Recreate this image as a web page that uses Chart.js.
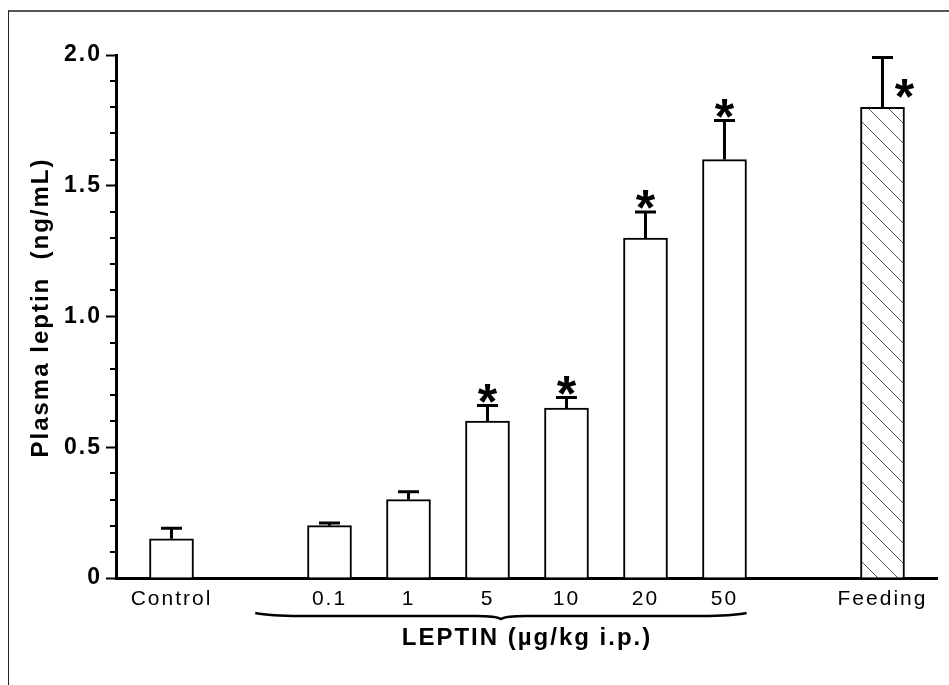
<!DOCTYPE html>
<html>
<head>
<meta charset="utf-8">
<script src="https://cdn.jsdelivr.net/npm/chart.js@4"></script>
<style>
  body { margin: 0; background: #fff; }
  #wrap { position: relative; width: 949px; height: 685px; overflow: hidden; }
  #frame { position: absolute; left: 8px; top: 10px; right: -10px; bottom: -10px;
           border-left: 1px solid #222; border-top: 2px solid #555; }
  #chart { position: absolute; left: 0; top: 0; }
</style>
</head>
<body>
<div id="wrap">
  <div id="frame"></div>
  <canvas id="chart" width="949" height="685"></canvas>
</div>
<script>
const categories = ['Control', '0.1', '1', '5', '10', '20', '50', 'Feeding'];
const slots = [0, 2, 3, 4, 5, 6, 7, 9];
const plasmaLeptin = [0.15, 0.20, 0.30, 0.60, 0.65, 1.30, 1.60, 1.80];
const sem = [0.04, 0.01, 0.03, 0.06, 0.04, 0.10, 0.15, 0.19];
const starPos = ['', '', '', 'above', 'above', 'above', 'above', 'right'];
const yTicks = [0, 0.5, 1, 1.5, 2];
const yTickLabels = ['0', '0.5', '1.0', '1.5', '2.0'];

Chart.defaults.font.family = '"Liberation Sans", Arial, sans-serif';
Chart.defaults.color = '#000';

// diagonal hatch for the feeding bar
const makeHatch = () => {
    const n = 20;
    const c = document.createElement('canvas');
    c.width = n; c.height = n;
    const g = c.getContext('2d');
    g.fillStyle = '#fff';
    g.fillRect(0, 0, n, n);
    g.strokeStyle = '#555';
    g.lineWidth = 1;
    g.beginPath();
    g.moveTo(-2, -2); g.lineTo(n + 2, n + 2);
    g.moveTo(-n - 2, -2); g.lineTo(2, n + 2);
    g.moveTo(n - 2, -2); g.lineTo(2 * n + 2, n + 2);
    g.stroke();
    return g.createPattern(c, 'repeat');
};
const hatch = makeHatch();

const extras = {
    id: 'extras',
    beforeDraw(chart) {
        chart.ctx.letterSpacing = '2px';
    },
    afterDraw(chart) {
        const ctx = chart.ctx;
        const x = chart.scales.x, y = chart.scales.y;
        const area = chart.chartArea;
        ctx.save();
        ctx.strokeStyle = '#000';
        ctx.fillStyle = '#000';

        // minor ticks on y
        ctx.lineWidth = 2;
        for (let v = 0.1; v < y.max; v += 0.1) {
            if (Math.abs(v / 0.5 - Math.round(v / 0.5)) < 0.01) continue;
            const py = Math.round(y.getPixelForValue(v));
            ctx.beginPath();
            ctx.moveTo(area.left - 6, py);
            ctx.lineTo(area.left, py);
            ctx.stroke();
        }

        // error bars + stars
        ctx.letterSpacing = '0px';
        ctx.font = 'bold 50px "Liberation Sans", Arial, sans-serif';
        ctx.textAlign = 'center';
        ctx.textBaseline = 'alphabetic';
        const m = ctx.measureText('*');
        const starOff = (m.actualBoundingBoxAscent - m.actualBoundingBoxDescent) / 2;
        slots.forEach((s, i) => {
            const px = x.getPixelForValue(s);
            const top = y.getPixelForValue(plasmaLeptin[i]);
            const cap = y.getPixelForValue(plasmaLeptin[i] + sem[i]);
            ctx.lineWidth = 3;
            ctx.beginPath();
            ctx.moveTo(px, top);
            ctx.lineTo(px, cap);
            ctx.moveTo(px - 10.5, cap);
            ctx.lineTo(px + 10.5, cap);
            ctx.stroke();
            if (starPos[i] === 'above') {
                ctx.fillText('*', px, cap - 12 + starOff);
            } else if (starPos[i] === 'right') {
                ctx.fillText('*', px + 22, (cap + top) / 2 + 6 + starOff);
            }
        });

        // brace under the leptin doses
        const L = x.getPixelForValue(1.06), R = x.getPixelForValue(7.28);
        const M = (L + R) / 2;
        const b = area.bottom;
        ctx.lineWidth = 2.5;
        ctx.beginPath();
        ctx.moveTo(L, b + 35);
        ctx.quadraticCurveTo(L + 15, b + 38, L + 45, b + 38);
        ctx.lineTo(M - 25, b + 38);
        ctx.quadraticCurveTo(M - 5, b + 38, M, b + 41);
        ctx.quadraticCurveTo(M + 5, b + 38, M + 25, b + 38);
        ctx.lineTo(R - 45, b + 38);
        ctx.quadraticCurveTo(R - 15, b + 38, R, b + 35);
        ctx.stroke();

        // axis titles
        ctx.letterSpacing = '2px';
        ctx.font = 'bold 24px "Liberation Sans", Arial, sans-serif';
        ctx.textBaseline = 'middle';
        const cx = (x.getPixelForValue(slots[1]) + x.getPixelForValue(slots[6])) / 2;
        ctx.fillText('LEPTIN (µg/kg i.p.)', cx, b + 60);
        ctx.translate(41, (area.top + area.bottom) / 2 - 9);
        ctx.rotate(-Math.PI / 2);
        ctx.fillText('Plasma leptin  (ng/mL)', 0, 0);
        ctx.restore();
    }
};

new Chart(document.getElementById('chart'), {
    type: 'bar',
    data: {
        datasets: [{
            data: slots.map((s, i) => ({ x: s, y: plasmaLeptin[i] })),
            backgroundColor: categories.map((c) => c === 'Feeding' ? hatch : '#fff'),
            borderColor: '#000',
            borderWidth: 2,
            barThickness: 44,
        }],
    },
    options: {
        responsive: false,
        animation: false,
        layout: { padding: { top: 55, right: 12, left: 0, bottom: 0 } },
        plugins: { legend: { display: false }, tooltip: { enabled: false } },
        scales: {
            x: {
                type: 'linear',
                offset: false,
                min: -0.7025,
                max: 9.69,
                grid: { display: false, drawTicks: false, offset: false },
                border: { display: true, width: 3, color: '#000' },
                afterBuildTicks: (scale) => { scale.ticks = slots.map((v) => ({ value: v })); },
                afterFit: (scale) => { scale.height = 107; },
                ticks: {
                    autoSkip: false,
                    maxRotation: 0,
                    padding: 9,
                    font: { size: 21 },
                    callback: (v, i) => categories[i],
                },
            },
            y: {
                min: 0,
                max: 2,
                grid: { display: true, drawOnChartArea: false, tickLength: 10, tickWidth: 2, tickColor: '#000' },
                border: { display: true, width: 3, color: '#000' },
                afterBuildTicks: (scale) => { scale.ticks = yTicks.map((v) => ({ value: v })); },
                afterFit: (scale) => { scale.width = 116; },
                ticks: {
                    padding: 4,
                    font: { size: 23, weight: 'bold' },
                    callback: (v, i) => yTickLabels[i],
                },
            },
        },
    },
    plugins: [extras],
});
</script>
</body>
</html>
